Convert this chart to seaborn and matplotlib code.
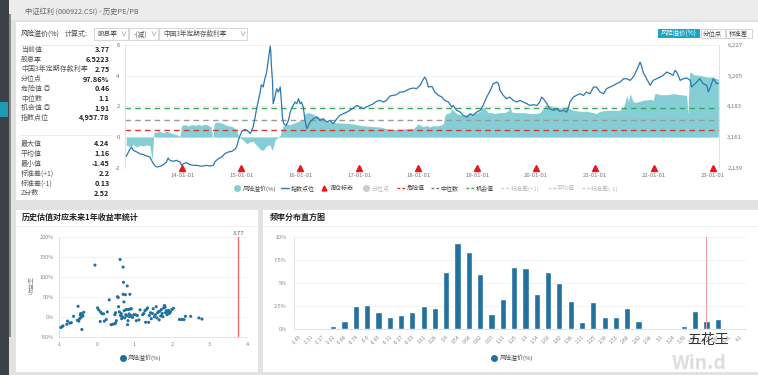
import numpy as np
import matplotlib
matplotlib.use("Agg")
import matplotlib.pyplot as plt
import matplotlib.ticker as mtick
from matplotlib.patches import Rectangle
from matplotlib.lines import Line2D
import seaborn as sns

# ---- summary values ----
CURRENT = 3.77
DIV_YIELD = 6.5223
DEPOSIT_RATE = 2.75
PCTL = 97.86
DANGER = 0.46
MEDIAN = 1.1
CHANCE = 1.91
INDEX_NOW = 4957.78
MAX_V, MEAN_V, MIN_V = 4.24, 1.16, -1.45
STD_UP, STD_DN, ZSCORE = 2.2, 0.13, 2.52

# index level (decimal year, points) - right axis
idx_year = [2013.05, 2013.11, 2013.14, 2013.17, 2013.23, 2013.28, 2013.34, 2013.40, 2013.45, 2013.48,
            2013.51, 2013.54, 2013.57, 2013.62, 2013.68, 2013.73, 2013.76, 2013.79, 2013.85, 2013.90,
            2013.96, 2013.99, 2014.02, 2014.07, 2014.13, 2014.19, 2014.24, 2014.30, 2014.36, 2014.41,
            2014.47, 2014.53, 2014.55, 2014.61, 2014.67, 2014.72, 2014.78, 2014.84, 2014.89, 2014.92,
            2014.95, 2014.98, 2015.01, 2015.06, 2015.12, 2015.15, 2015.18, 2015.20, 2015.23, 2015.26,
            2015.29, 2015.32, 2015.34, 2015.37, 2015.40, 2015.43, 2015.46, 2015.49, 2015.50, 2015.51,
            2015.53, 2015.54, 2015.57, 2015.60, 2015.63, 2015.66, 2015.68, 2015.70, 2015.72, 2015.76,
            2015.80, 2015.83, 2015.85, 2015.88, 2015.91, 2015.94, 2015.97, 2015.995, 2016.02, 2016.05,
            2016.08, 2016.11, 2016.14, 2016.165, 2016.22, 2016.28, 2016.33, 2016.39, 2016.45, 2016.50,
            2016.56, 2016.62, 2016.67, 2016.73, 2016.79, 2016.84, 2016.90, 2016.96, 2017.01, 2017.07,
            2017.12, 2017.18, 2017.24, 2017.29, 2017.35, 2017.41, 2017.46, 2017.52, 2017.58, 2017.63,
            2017.69, 2017.75, 2017.80, 2017.86, 2017.92, 2017.97, 2018.03, 2018.09, 2018.11, 2018.14,
            2018.17, 2018.23, 2018.28, 2018.34, 2018.40, 2018.45, 2018.51, 2018.57, 2018.59, 2018.65,
            2018.71, 2018.76, 2018.82, 2018.88, 2018.93, 2018.99, 2019.05, 2019.10, 2019.16, 2019.22,
            2019.27, 2019.33, 2019.36, 2019.385, 2019.44, 2019.50, 2019.55, 2019.61, 2019.67, 2019.72,
            2019.78, 2019.84, 2019.89, 2019.95, 2020.01, 2020.06, 2020.09, 2020.12, 2020.18, 2020.23,
            2020.29, 2020.35, 2020.40, 2020.46, 2020.515, 2020.54, 2020.57, 2020.63, 2020.68, 2020.74,
            2020.80, 2020.85, 2020.91, 2020.97, 2021.02, 2021.08, 2021.14, 2021.19, 2021.25, 2021.31,
            2021.36, 2021.42, 2021.48, 2021.53, 2021.59, 2021.645, 2021.70, 2021.76, 2021.79, 2021.81,
            2021.87, 2021.93, 2021.98, 2022.04, 2022.10, 2022.15, 2022.21, 2022.27, 2022.32, 2022.35,
            2022.38, 2022.44, 2022.49, 2022.55, 2022.61, 2022.63, 2022.66, 2022.72, 2022.77, 2022.83,
            2022.89, 2022.916, 2022.94, 2023.00, 2023.06, 2023.085]
idx_pts = [2517, 2750, 2828, 2717, 2661, 2606, 2573, 2528, 2495, 2384,
           2273, 2195, 2162, 2184, 2240, 2329, 2462, 2384, 2351, 2384,
           2329, 2218, 2273, 2306, 2240, 2218, 2218, 2195, 2195, 2218,
           2195, 2218, 2329, 2440, 2495, 2606, 2661, 2684, 2750, 2828,
           3050, 3216, 3350, 3416, 3350, 3272, 3383, 3494, 3772, 4104,
           4382, 4660, 4904, 4826, 5104, 5326, 5770, 6191, 5991, 5548,
           4993, 4271, 4493, 4771, 4660, 4826, 4327, 3772, 3605, 3550,
           3716, 3994, 4104, 4216, 4327, 4271, 4438, 4271, 4327, 4160,
           3716, 3439, 3550, 3661, 3772, 3827, 3716, 3772, 3661, 3716,
           3605, 3772, 3883, 3938, 3994, 4049, 4127, 4216, 4160, 4104,
           4160, 4216, 4271, 4349, 4382, 4327, 4382, 4526, 4549, 4571,
           4660, 4660, 4715, 4771, 4793, 4771, 4882, 5104, 5159, 5048,
           4826, 4848, 4660, 4549, 4493, 4382, 4327, 4160, 4216, 4049,
           3994, 3883, 3827, 3938, 3883, 3994, 4049, 4216, 4493, 4715,
           4937, 4993, 4937, 4715, 4549, 4438, 4493, 4382, 4327, 4382,
           4327, 4271, 4216, 4238, 4216, 4327, 4493, 4438, 4271, 4104,
           4049, 4104, 4016, 4049, 3994, 4104, 4327, 4493, 4549, 4604,
           4549, 4660, 4604, 4826, 4826, 4660, 4604, 4771, 4826, 4882,
           4937, 4993, 5104, 5104, 5048, 5159, 5381, 5658, 5492, 5326,
           5104, 4882, 5048, 5104, 5159, 5215, 5326, 5270, 5215, 5381,
           5326, 5048, 5104, 5126, 5048, 4826, 4882, 4993, 5104, 4937,
           4882, 4660, 4771, 5104, 4937, 4958]

# risk premium (%) - left axis, filled area
rp_year = [2013.05, 2013.11, 2013.17, 2013.23, 2013.28, 2013.34, 2013.40, 2013.45, 2013.48, 2013.49,
           2013.52, 2013.57, 2013.62, 2013.68, 2013.73, 2013.79, 2013.85, 2013.90, 2013.96, 2013.99,
           2014.05, 2014.10, 2014.16, 2014.22, 2014.27, 2014.33, 2014.385, 2014.44, 2014.49, 2014.515,
           2014.54, 2014.58, 2014.64, 2014.695, 2014.75, 2014.81, 2014.865, 2014.92, 2014.95, 2014.98,
           2015.035, 2015.09, 2015.15, 2015.20, 2015.26, 2015.32, 2015.37, 2015.43, 2015.49, 2015.515,
           2015.54, 2015.57, 2015.60, 2015.66, 2015.685, 2015.71, 2015.77, 2015.825, 2015.88, 2015.94,
           2015.995, 2016.05, 2016.08, 2016.14, 2016.19, 2016.25, 2016.30, 2016.36, 2016.42, 2016.50,
           2016.56, 2016.67, 2016.79, 2016.90, 2017.01, 2017.12, 2017.24, 2017.35, 2017.46, 2017.58,
           2017.69, 2017.80, 2017.92, 2018.00, 2018.03, 2018.09, 2018.14, 2018.20, 2018.255, 2018.31,
           2018.37, 2018.425, 2018.45, 2018.48, 2018.54, 2018.565, 2018.59, 2018.65, 2018.71, 2018.76,
           2018.82, 2018.88, 2018.93, 2018.99, 2019.05, 2019.07, 2019.13, 2019.19, 2019.24, 2019.30,
           2019.36, 2019.41, 2019.47, 2019.53, 2019.555, 2019.58, 2019.64, 2019.70, 2019.75, 2019.81,
           2019.89, 2019.98, 2020.06, 2020.12, 2020.15, 2020.20, 2020.29, 2020.40, 2020.515, 2020.57,
           2020.63, 2020.74, 2020.85, 2020.97, 2021.02, 2021.08, 2021.19, 2021.31, 2021.42, 2021.48,
           2021.52, 2021.54, 2021.56, 2021.59, 2021.645, 2021.70, 2021.81, 2021.93, 2021.98, 2022.01,
           2022.04, 2022.10, 2022.21, 2022.32, 2022.44, 2022.55, 2022.57, 2022.595, 2022.62, 2022.66,
           2022.77, 2022.89, 2023.00, 2023.085]
rp_val = [-0.54, -0.62, -0.50, -0.65, -0.54, -0.58, -0.50, -0.58, -1.30, -1.45,
          0.29, 0.33, 0.37, 0.29, 0.37, 0.29, 0.20, 0.16, 0.05, 0.76,
          0.81, 0.72, 0.81, 0.76, 0.82, 0.76, 0.85, 0.76, 0.65, -0.21,
          0.87, 0.98, 0.94, 0.87, 0.76, 0.72, 0.65, 0.44, 0.12, -0.06,
          -0.21, -0.43, -0.32, -0.28, -0.54, -0.80, -0.87, -0.58, -0.50, -0.87,
          -0.72, -0.21, -0.11, 0.12, 0.44, 0.76, 0.85, 0.81, 0.89, 0.98,
          1.07, 1.16, 1.53, 1.59, 1.53, 1.42, 1.35, 1.20, 1.09, 0.98,
          0.94, 0.92, 0.89, 0.85, 0.76, 0.72, 0.68, 0.65, 0.55, 0.50,
          0.50, 0.55, 0.55, 0.87, 0.76, 0.68, 0.76, 0.65, 0.76, 0.72,
          0.76, 0.87, 1.42, 1.53, 1.59, 1.85, 1.74, 1.53, 1.46, 1.42,
          1.46, 1.53, 1.46, 1.59, 1.68, 1.96, 1.85, 1.59, 1.59, 1.53,
          1.59, 1.59, 1.59, 1.74, 2.07, 1.64, 1.59, 1.59, 1.59, 1.59,
          1.53, 1.53, 1.59, 1.85, 2.07, 2.07, 1.96, 1.90, 1.96, 1.85,
          1.74, 1.68, 1.68, 1.59, 1.53, 1.68, 1.74, 1.74, 1.74, 1.96,
          2.50, 2.72, 2.28, 2.83, 2.28, 2.28, 2.39, 2.46, 2.39, 2.83,
          2.83, 2.76, 2.76, 2.83, 2.76, 2.72, 1.46, 4.13, 4.24, 4.07,
          4.02, 3.91, 3.91, 3.77]

rebalance_years = [2014, 2015, 2016, 2017, 2018, 2019, 2020, 2021, 2022, 2023]

# scatter: risk premium vs next-1y return (%)
scatter_rp = [-0.96, -0.93, -0.90, -0.80, -0.78, -0.72, -0.68, -0.62, -0.50, -0.52,
              -0.48, -0.46, -0.44, -0.42, -0.40, -0.39, -0.37, -0.35, -0.43,
              -0.05, 0.02, 0.05, 0.09, 0.10, 0.13, 0.18, 0.20, 0.25, 0.28,
              0.33, 0.38, 0.42, 0.47, 0.50, 0.52, 0.48, 0.50, 0.55, 0.57,
              0.58, 0.60, 0.62, 0.63, 0.65, 0.66, 0.68, 0.70, 0.71, 0.70,
              0.72, 0.73, 0.74, 0.76, 0.77, 0.78, 0.80, 0.81, 0.82, 0.83,
              0.84, 0.86, 0.87, 0.88, 0.89, 0.90, 0.92, 0.95, 0.98,
              1.03, 1.05, 1.08, 1.12, 1.15, 1.22, 1.25, 1.28, 1.30, 1.32,
              1.35, 1.38, 1.40, 1.43, 1.45, 1.48, 1.50, 1.53, 1.56, 1.58,
              1.60, 1.62, 1.64, 1.66, 1.68, 1.70, 1.72, 1.74, 1.76, 1.78,
              1.80, 1.82, 1.83, 1.85, 1.87, 1.89, 1.91, 1.93, 1.96, 2.00,
              2.04, 2.20, 2.26, 2.32, 2.36, 2.50, 2.72, 2.80]
scatter_ret = [-27, -25, -23, -19, -11, -16, -15, 1, 26, -9,
               -11, -5, 4, -2, -32, 6, 2, 11, 8,
               129, 22, 17, -12, 12, 8, 7, -11, -7, 12,
               42, -20, -19, -18, -16, -10, 5, 10, 50, 48,
               25, 12, 143, 3, 8, -5, 0, 124, 86, 56,
               37, 15, -3, 55, 5, 18, 2, 77, -20, -10,
               18, 7, 0, 56, 19, 3, 20, -2, 5,
               5, -10, 3, -8, 17, 5, 8, 15, -14, 18,
               22, -14, 3, 10, -5, 8, 20, 0, 5, 25,
               -3, 10, 12, -8, 14, 2, 18, 8, 0, 22,
               28, 24, 10, 15, 5, 12, 16, 8, 12, 18,
               21, -7, -7, -7, 1, 1, -3, -6]

# frequency histogram of risk premium (%)
hist_bins = [-1.45, -1.31, -1.17, -1.02, -0.88, -0.74, -0.6, -0.45, -0.31, -0.17,
             -0.03, 0.11, 0.26, 0.4, 0.54, 0.68, 0.82, 0.97, 1.11, 1.25,
             1.4, 1.54, 1.68, 1.82, 1.96, 2.11, 2.25, 2.39, 2.53, 2.68,
             2.82, 2.96, 3.1, 3.24, 3.39, 3.53, 3.67, 3.81, 3.96, 4.1]
hist_freq = [0.18, 0, 0.15, 0.36, 0.9, 2.52, 2.66, 1.9, 1.3, 1.55,
             1.9, 2.52, 2.3, 6.19, 9.28, 8.35, 5.97, 1.69, 3.27, 6.73,
             6.58, 3.81, 6.22, 5.04, 3.06, 0.76, 2.91, 1.3, 1.3, 2.3,
             0.9, 0, 0, 0, 0.36, 1.94, 0.9, 1.15, 0.14, 0.14]

# ---- style ----
AREA = "#86ced6"
LINE = "#2c79ad"
DOT = "#1f6f9f"
BAR = "#22719e"
RED = "#e8161b"
GREEN = "#3aa85a"
GRAY_D = "#9a9a9a"
RED_D = "#d9362f"
TXT = "#555555"

sns.set_theme(style="white")
plt.rcParams['font.family'] = ['Noto Sans CJK SC', 'DejaVu Sans']
plt.rcParams['axes.unicode_minus'] = False

W, H = 758, 375
fig = plt.figure(figsize=(W / 100, H / 100), dpi=100)
fig.patch.set_facecolor("#e2e2e2")


def frac(x0, y0, x1, y1):
    return [x0 / W, 1 - y1 / H, (x1 - x0) / W, (y1 - y0) / H]


def box(x0, y0, x1, y1, fc, ec="none", lw=0.6, z=-1):
    fig.add_artist(Rectangle((x0 / W, 1 - y1 / H), (x1 - x0) / W, (y1 - y0) / H,
                             transform=fig.transFigure, facecolor=fc,
                             edgecolor=ec, lw=lw, zorder=z))


def ftext(x, y, s, **kw):
    kw.setdefault("va", "center")
    kw.setdefault("color", TXT)
    kw.setdefault("fontsize", 5)
    fig.text(x / W, 1 - y / H, s, **kw)


def hline(x0, x1, y, color="#e8e8e8", lw=0.6):
    fig.add_artist(Line2D([x0 / W, x1 / W], [1 - y / H] * 2,
                          transform=fig.transFigure, color=color, lw=lw))


def legend_item(x, y, kind, color, label, tx, tcolor="#444444"):
    yy = 1 - y / H
    if kind == "dot":
        art = Line2D([x / W], [yy], marker="o", ms=4, color=color, ls="none")
    elif kind == "tri":
        art = Line2D([x / W], [yy], marker="^", ms=3.5, color=color, ls="none")
    elif kind == "line":
        art = Line2D([(x - 4) / W, (x + 4) / W], [yy, yy], color=color, lw=1)
    else:
        art = Line2D([(x - 4) / W, (x + 4) / W], [yy, yy], color=color, lw=1,
                     ls=(0, (2, 1.5)))
    art.set_transform(fig.transFigure)
    fig.add_artist(art)
    ftext(tx, y, label, color=tcolor, fontsize=4.3)


# ---- page frame ----
box(0, 0, W, 20, "#ececec")
box(0, 0, 9, H, "#3d4045", z=-0.5)
box(0, 102, 8, 117, "#1a9db3", z=-0.4)
box(8.5, 14, 10.5, 337, "#8a8c90", z=-0.4)
box(16, 22, W, 200, "white")
box(16, 210, 258, 372, "white")
box(263, 210, W, 372, "white")
ftext(25, 11.5, "中证红利 (000922.CSI) - 历史PE/PB", color="#666666", fontsize=5.2)

# ---- stats column ----
ftext(21, 34, "风险溢价(%)", color="#333333", fontsize=5)
ftext(65, 34, "计算式:", color="#555555", fontsize=5)
for x0, x1, s in [(94.3, 128.3, "股息率"), (129.3, 158.3, "-(减)"),
                  (159.3, 247.3, "中国3年定期存款利率")]:
    box(x0, 28.3, x1, 40, "white", ec="#d0d0d0", z=1)
    ftext(x0 + 4, 34.2, s, color="#555555", fontsize=4.8)
    ftext(x1 - 8, 34.2, "∨", color="#777777", fontsize=4.5)
hline(20, 111, 45)
hline(20, 111, 134.5)

rows1 = [("当前值", f"{CURRENT}"), ("股息率", f"{DIV_YIELD}"),
         ("中国3年定期存款利率", f"{DEPOSIT_RATE}"), ("分位点", f"{PCTL}%"),
         ("危险值 ◎", f"{DANGER}"), ("中位数", f"{MEDIAN}"),
         ("机会值 ◎", f"{CHANCE}"), ("指数点位", f"{INDEX_NOW:,.2f}")]
rows2 = [("最大值", f"{MAX_V}"), ("平均值", f"{MEAN_V}"), ("最小值", f"{MIN_V}"),
         ("标准差(+1)", f"{STD_UP}"), ("标准差(-1)", f"{STD_DN}"), ("Z分数", f"{ZSCORE}")]
for i, (lab, val) in enumerate(rows1):
    ftext(21, 50 + i * 9.7, lab)
    ftext(109.5, 50 + i * 9.7, val, ha="right", color="#222222", fontweight="bold", fontsize=5.2)
for i, (lab, val) in enumerate(rows2):
    ftext(21, 144 + i * 9.8, lab)
    ftext(109.5, 144 + i * 9.8, val, ha="right", color="#222222", fontweight="bold", fontsize=5.2)

# ---- buttons ----
box(657.7, 29, 700, 38.3, "#19a6c4", z=1)
ftext(678.8, 33.8, "风险溢价(%)", color="white", fontsize=4.6, ha="center")
box(701, 29, 724.5, 38.3, "white", ec="#cccccc", z=1)
ftext(712.7, 33.8, "分位点", color="#444444", fontsize=4.6, ha="center")
box(725.7, 29, 752, 38.3, "white", ec="#cccccc", z=1)
ftext(738.8, 33.8, "标准差", color="#444444", fontsize=4.6, ha="center")

# ---- top chart: risk premium area + index line ----
ax = fig.add_axes(frac(125.3, 45, 719, 167.7))
ax.set_facecolor("none")
ax.fill_between(rp_year, 0, rp_val, color=AREA, lw=0, interpolate=True, zorder=1)
for val, col in [(CHANCE, GREEN), (MEDIAN, GRAY_D), (DANGER, RED_D)]:
    ax.axhline(val, color=col, lw=1.0, ls=(0, (4, 3)), zorder=2)
ax.plot(rebalance_years, [-2] * len(rebalance_years), ls="none", marker="^",
        color=RED, ms=4, clip_on=False, zorder=5)
ax.set_xlim(2013.034, 2023.097)
ax.set_ylim(-2, 6)
ax.set_yticks([-2, 0, 2, 4, 6])
ax.set_xticks(rebalance_years)
ax.set_xticklabels([f"{y % 100:02d}-01-01" for y in rebalance_years])
ax.yaxis.grid(True, color="#eeeeee", lw=0.6)
ax.set_axisbelow(True)
ax.tick_params(length=0, labelsize=4.3, labelcolor="#777777")
ax.tick_params(axis="x", pad=4)
ax.tick_params(axis="y", pad=4)
for s in ["top", "bottom", "right"]:
    ax.spines[s].set_visible(False)
ax.spines["left"].set_color("#dddddd")
ax.spines["left"].set_linewidth(0.6)

ax2 = ax.twinx()
sns.lineplot(x=idx_year, y=idx_pts, ax=ax2, color=LINE, lw=0.9,
             estimator=None, sort=False, zorder=4)
ax2.set_ylim(2139, 6227)
ax2.set_yticks([2139, 3161, 4183, 5205, 6227])
ax2.yaxis.set_major_formatter(mtick.FuncFormatter(lambda v, p: f"{v:,.0f}"))
ax2.set_ylabel("")
ax2.tick_params(length=0, labelsize=4.3, labelcolor="#777777", pad=6)
for s in ["top", "bottom", "left"]:
    ax2.spines[s].set_visible(False)
ax2.spines["right"].set_color("#dddddd")
ax2.spines["right"].set_linewidth(0.6)

# top legend
legend_item(236.7, 188.3, "dot", AREA, "风险溢价(%)", 242.7)
legend_item(285, 188.3, "line", LINE, "指数点位", 291)
legend_item(324.3, 188.3, "tri", RED, "调仓标志", 329.3)
legend_item(365.7, 188.3, "dot", "#cccccc", "分位点", 371.7, "#bbbbbb")
legend_item(401, 188.3, "dash", RED_D, "危险值", 406.7)
legend_item(435, 188.3, "dash", "#777777", "中位数", 440.7)
legend_item(470, 188.3, "dash", GREEN, "机会值", 476)
legend_item(505, 188.3, "dash", "#cccccc", "标准差(+1)", 510.7, "#bbbbbb")
legend_item(552, 188.3, "dash", "#cccccc", "平均值", 557, "#bbbbbb")
legend_item(586, 188.3, "dash", "#cccccc", "标准差(-1)", 590.7, "#bbbbbb")

# ---- bottom-left: scatter ----
ftext(22, 217.5, "历史估值对应未来1年收益率统计", color="#222222", fontsize=5.8, fontweight="bold")
hline(16, 258, 225.5, color="#eeeeee")
axs = fig.add_axes(frac(59.3, 236.7, 247, 336.7))
sns.scatterplot(x=scatter_rp, y=scatter_ret, ax=axs, s=5, color=DOT,
                edgecolor="none", legend=False, zorder=3)
axs.axvline(CURRENT, color="#ec6f6f", lw=1)
axs.text(CURRENT, 201, f"{CURRENT}", ha="center", va="bottom", fontsize=4.3, color="#555555")
axs.set_xlim(-1, 4)
axs.set_ylim(-50, 200)
axs.set_xticks(range(-1, 5))
axs.set_yticks([-50, 0, 50, 100, 150, 200])
axs.yaxis.set_major_formatter(mtick.FuncFormatter(lambda v, p: f"{v:g}%"))
axs.yaxis.grid(True, color="#f0f0f0", lw=0.6)
axs.set_axisbelow(True)
axs.tick_params(axis="y", length=0, labelsize=4, labelcolor="#888888", pad=4)
axs.tick_params(axis="x", length=2, width=0.5, color="#cccccc", labelsize=4,
                labelcolor="#888888", pad=2)
for s in ["top", "right"]:
    axs.spines[s].set_visible(False)
for s in ["left", "bottom"]:
    axs.spines[s].set_color("#dddddd")
    axs.spines[s].set_linewidth(0.6)
ftext(32, 285, "收益率", rotation=90, ha="center", color="#888888", fontsize=4.3)
legend_item(122.7, 358, "dot", DOT, "风险溢价(%)", 128)

# ---- bottom-right: histogram ----
ftext(270, 217.5, "频率分布直方图", color="#222222", fontsize=5.8, fontweight="bold")
hline(263, W, 225.5, color="#eeeeee")
axh = fig.add_axes(frac(293.6, 236.7, 746, 329.3))
bin_labels = [f"{b:g}" for b in hist_bins]
sns.barplot(x=bin_labels, y=hist_freq, ax=axh, color=BAR, width=0.55,
            saturation=1, zorder=3)
cur_bin = np.searchsorted(hist_bins, CURRENT, side="right") - 1
axh.axvline(cur_bin, color="#f4a0a0", lw=0.8, zorder=4)
axh.set_xlim(-0.5, len(hist_bins) - 0.5)
axh.set_ylim(0, 10)
axh.set_yticks([0, 2.5, 5, 7.5, 10])
axh.yaxis.set_major_formatter(mtick.FuncFormatter(lambda v, p: f"{v:g}%"))
axh.yaxis.grid(True, color="#f0f0f0", lw=0.6)
axh.set_axisbelow(True)
axh.tick_params(axis="y", length=0, labelsize=4, labelcolor="#888888", pad=5)
axh.tick_params(axis="x", length=2, width=0.5, color="#dddddd", labelsize=3.6,
                labelcolor="#888888", pad=1.5)
for lab in axh.get_xticklabels():
    lab.set_rotation(45)
    lab.set_ha("right")
    lab.set_rotation_mode("anchor")
for s in ["top", "right"]:
    axh.spines[s].set_visible(False)
for s in ["left", "bottom"]:
    axh.spines[s].set_color("#dddddd")
    axh.spines[s].set_linewidth(0.6)
legend_item(494, 358, "dot", BAR, "风险溢价(%)", 500)

# watermark
ftext(708, 340, "五花王", color="#333333", fontsize=10, ha="center")
ftext(672, 373, "Win.d", color="#dddddd", fontsize=14, ha="left", va="bottom",
      fontweight="bold")

fig.savefig("out.png", dpi=100, facecolor=fig.get_facecolor())
